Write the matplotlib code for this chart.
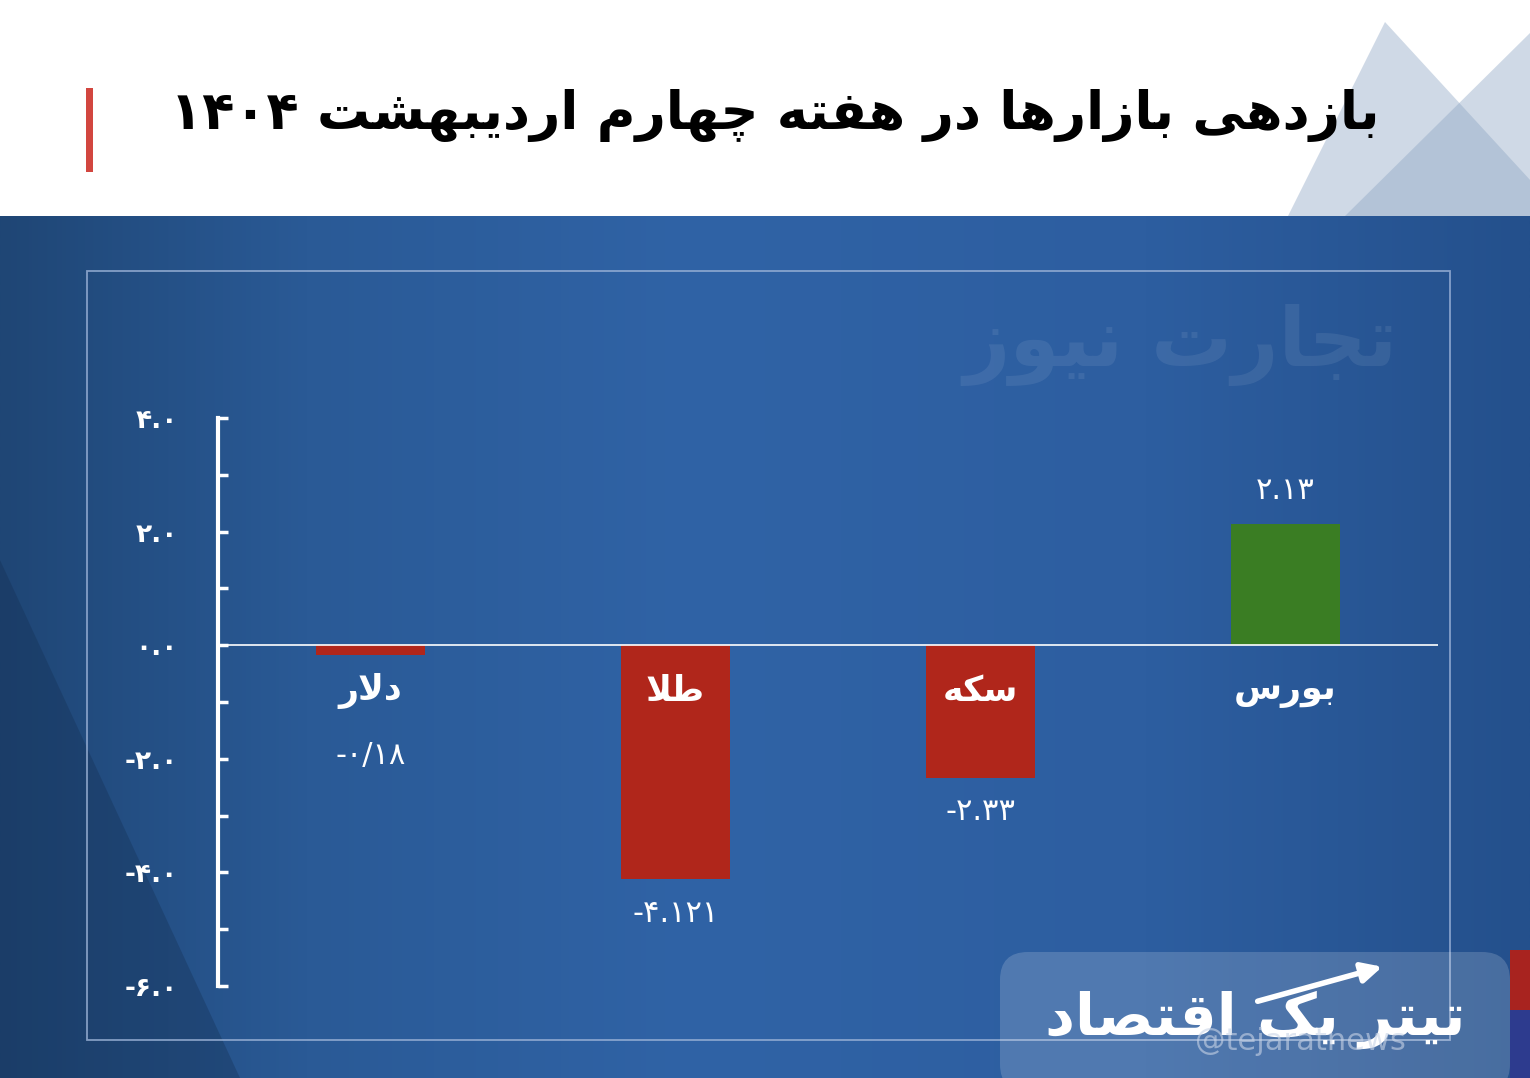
import re
import numpy as np
import matplotlib
matplotlib.use('Agg')
import matplotlib.pyplot as plt
from matplotlib.patches import Polygon, Rectangle, FancyBboxPatch
from matplotlib.ticker import MultipleLocator

plt.rcParams['font.family'] = ['DejaVu Sans']

# data
title = 'بازدهی بازارها در هفته چهارم اردیبهشت ۱۴۰۴'
categories = ['دلار', 'طلا', 'سکه', 'بورس']
values = [-0.18, -4.121, -2.33, 2.13]
value_labels = ['-۰/۱۸', '-۴.۱۲۱', '-۲.۳۳', '۲.۱۳']
y_ticks = [-6, -4, -2, 0, 2, 4]
watermark = 'تجارت نیوز'
logo_text = 'تیتر یک اقتصاد'
handle = '@tejaratnews'

# simple persian shaping (matplotlib has no complex text layout)
FORMS = {
    'ا': (0xFE8D, 0xFE8E, None, None),
    'ب': (0xFE8F, 0xFE90, 0xFE91, 0xFE92),
    'پ': (0xFB56, 0xFB57, 0xFB58, 0xFB59),
    'ت': (0xFE95, 0xFE96, 0xFE97, 0xFE98),
    'ج': (0xFE9D, 0xFE9E, 0xFE9F, 0xFEA0),
    'چ': (0xFB7A, 0xFB7B, 0xFB7C, 0xFB7D),
    'د': (0xFEA9, 0xFEAA, None, None),
    'ر': (0xFEAD, 0xFEAE, None, None),
    'ز': (0xFEAF, 0xFEB0, None, None),
    'س': (0xFEB1, 0xFEB2, 0xFEB3, 0xFEB4),
    'ش': (0xFEB5, 0xFEB6, 0xFEB7, 0xFEB8),
    'ص': (0xFEB9, 0xFEBA, 0xFEBB, 0xFEBC),
    'ط': (0xFEC1, 0xFEC2, 0xFEC3, 0xFEC4),
    'ف': (0xFED1, 0xFED2, 0xFED3, 0xFED4),
    'ق': (0xFED5, 0xFED6, 0xFED7, 0xFED8),
    'ک': (0xFB8E, 0xFB8F, 0xFB90, 0xFB91),
    'ك': (0xFB8E, 0xFB8F, 0xFB90, 0xFB91),
    'ل': (0xFEDD, 0xFEDE, 0xFEDF, 0xFEE0),
    'م': (0xFEE1, 0xFEE2, 0xFEE3, 0xFEE4),
    'ن': (0xFEE5, 0xFEE6, 0xFEE7, 0xFEE8),
    'و': (0xFEED, 0xFEEE, None, None),
    'ه': (0xFEE9, 0xFEEA, 0xFEEB, 0xFEEC),
    'ی': (0xFBFC, 0xFBFD, 0xFBFE, 0xFBFF),
    'ي': (0xFBFC, 0xFBFD, 0xFBFE, 0xFBFF),
}


def joins_next(c):
    return c in FORMS and FORMS[c][2] is not None


def shape(text):
    res = []
    i = 0
    n = len(text)
    while i < n:
        c = text[i]
        if c not in FORMS:
            res.append(c)
            i += 1
            continue
        jp = i > 0 and joins_next(text[i - 1])
        if c == 'ل' and i + 1 < n and text[i + 1] == 'ا':
            res.append(chr(0xFEFC if jp else 0xFEFB))
            i += 2
            continue
        jn = joins_next(c) and i + 1 < n and text[i + 1] in FORMS
        iso, fin, ini, med = FORMS[c]
        if jp and jn:
            g = med
        elif jp:
            g = fin
        elif jn:
            g = ini
        else:
            g = iso
        res.append(chr(g))
        i += 1
    s = ''.join(res)
    tokens = re.findall(r'[0-9۰-۹]+|[^0-9۰-۹]+', s)
    return ''.join(t if t[0] in '0123456789۰۱۲۳۴۵۶۷۸۹' else t[::-1] for t in reversed(tokens))


def fa_num(s):
    return s.translate(str.maketrans('0123456789', '۰۱۲۳۴۵۶۷۸۹'))


W, H = 1530, 1078
fig = plt.figure(figsize=(W / 100, H / 100), dpi=100, facecolor='white')

# background in pixel coords
bg = fig.add_axes([0, 0, 1, 1])
bg.set_xlim(0, W)
bg.set_ylim(H, 0)
bg.axis('off')

# header triangles
for pts in [[(1287, 218), (1385, 22), (1565, 218)], [(1343, 218), (1530, 33), (1530, 218)]]:
    bg.add_patch(Polygon(pts, closed=True, facecolor='#8ea6c4', alpha=0.42, lw=0, zorder=1))

# blue gradient panel
gx = np.linspace(0, 1, 600)
stops = [0, 0.2, 0.45, 0.75, 1]
rgb = np.array([[31, 70, 117], [42, 90, 150], [48, 99, 166], [45, 94, 160], [36, 80, 140]]) / 255
grad = np.stack([np.interp(gx, stops, rgb[:, k]) for k in range(3)], axis=-1)[None, :, :]
bg.imshow(grad, extent=(0, W, H, 216), aspect='auto', zorder=2, interpolation='bilinear')
bg.add_patch(Polygon([(0, 560), (240, H), (0, H)], closed=True, facecolor='#142f52', alpha=0.35, lw=0, zorder=3))

# inner frame
bg.add_patch(Rectangle((87, 271), 1363, 769, fill=False, edgecolor='#9db4d8', lw=1.3, alpha=0.8, zorder=4))

# watermark
bg.text(1180, 345, shape(watermark), ha='center', va='center', fontsize=58, fontweight='bold',
        color='white', alpha=0.08, zorder=4)

# logo box bottom right
bg.add_patch(FancyBboxPatch((1000, 952), 510, 140, boxstyle='round,pad=0,rounding_size=28',
                            facecolor='white', alpha=0.17, lw=0, zorder=4))
bg.text(1255, 1020, shape(logo_text), ha='center', va='center', fontsize=42, fontweight='bold',
        color='white', zorder=5)
bg.text(1300, 1042, handle, ha='center', va='center', fontsize=22, color='#c9d4e6', alpha=0.6, zorder=6)
bg.annotate('', xy=(1385, 966), xytext=(1255, 1002),
            arrowprops=dict(arrowstyle='-|>', color='white', lw=4, mutation_scale=30), zorder=6)
bg.add_patch(Rectangle((1510, 950), 20, 60, facecolor='#a8231f', lw=0, zorder=5))
bg.add_patch(Rectangle((1510, 1010), 20, 68, facecolor='#2d3b8e', lw=0, zorder=5))

# title and red accent
bg.add_patch(Rectangle((86, 88), 7, 84, facecolor='#d2463f', lw=0, zorder=5))
bg.text(1380, 116, shape(title), ha='right', va='center', fontsize=38, fontweight='bold',
        color='black', zorder=5)

# chart
ax = fig.add_axes([218 / W, 1 - 986 / H, (1438 - 218) / W, (986 - 418) / H])
ax.set_facecolor('none')
x = np.arange(len(categories))
colors = ['#3a7d23' if v > 0 else '#b0261b' for v in values]
ax.bar(x, values, width=0.36, color=colors, zorder=2)
ax.axhline(0, color='white', lw=1.2, zorder=3)
ax.set_xlim(-0.5, 3.5)
ax.set_ylim(-6, 4)

for s in ['top', 'right', 'bottom']:
    ax.spines[s].set_visible(False)
ax.spines['left'].set_color('white')
ax.spines['left'].set_linewidth(3)

ax.set_yticks(y_ticks)
ax.set_yticklabels([fa_num(f'{t:.1f}') for t in y_ticks], fontsize=19, fontweight='bold')
ax.yaxis.set_minor_locator(MultipleLocator(1))
ax.tick_params(axis='y', which='both', direction='in', length=7.5, width=2.5,
               colors='white', pad=29)
ax.tick_params(axis='x', bottom=False, labelbottom=False)

for i, (c, v, lab) in enumerate(zip(categories, values, value_labels)):
    ax.text(i, -0.8, shape(c), ha='center', va='center', color='white',
            fontsize=25, fontweight='bold', zorder=4)
    ly = v + 0.6 if v > 0 else min(v, -1.35) - 0.6
    ax.text(i, ly, lab, ha='center', va='center', color='white', fontsize=22, zorder=4)

fig.savefig('out.png', dpi=100)
